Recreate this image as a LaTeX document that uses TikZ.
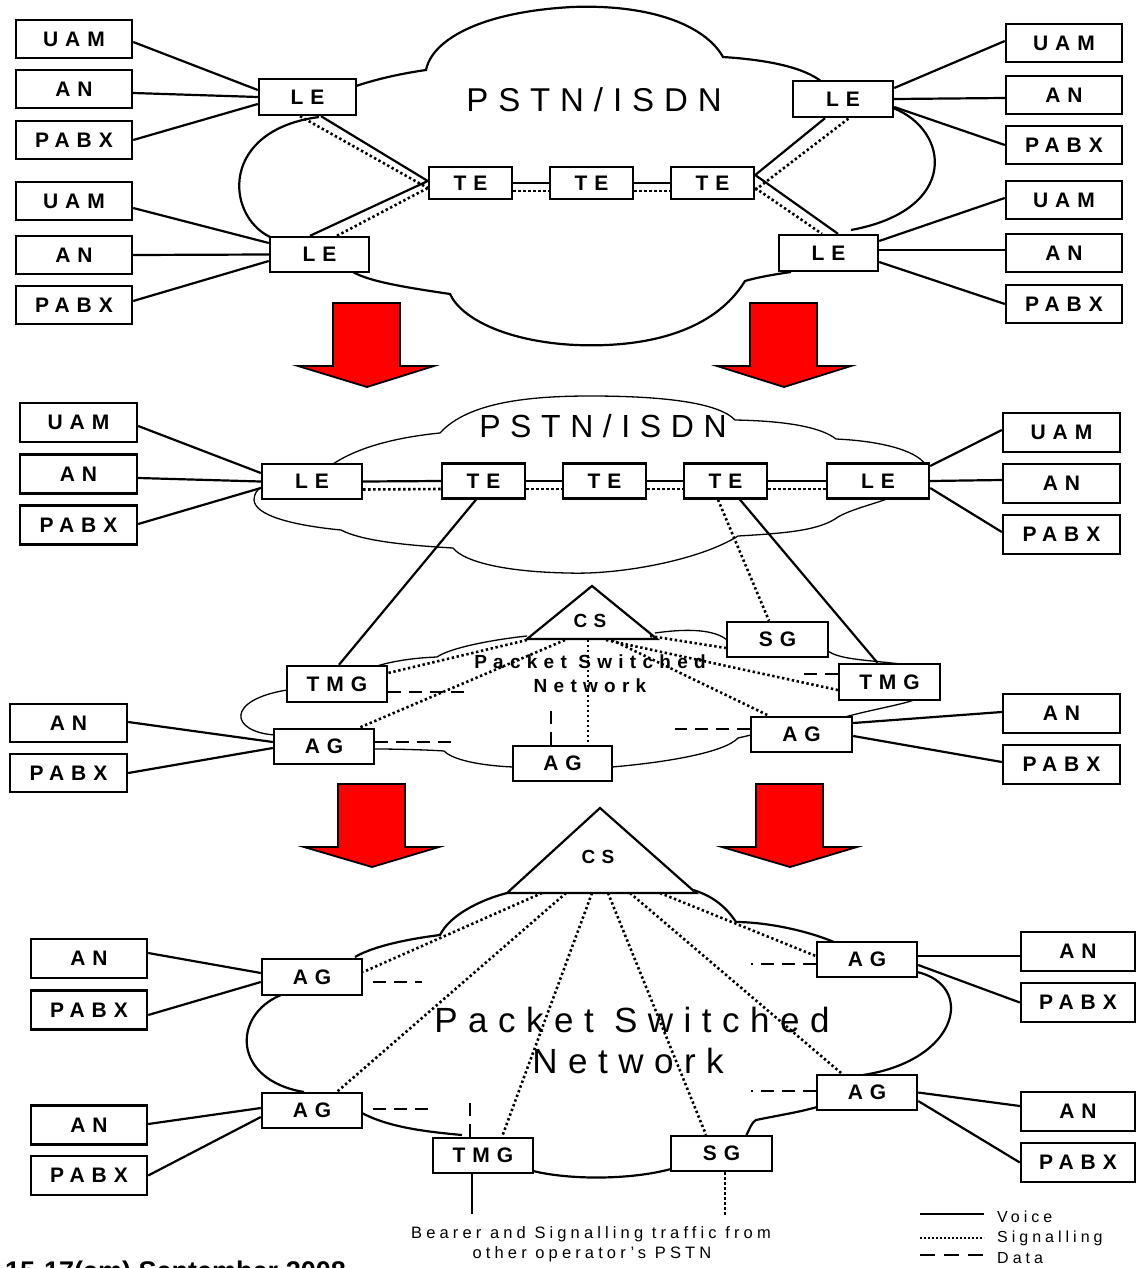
\documentclass[tikz,border=0pt]{standalone}
\usepackage{fontspec}
\setmainfont{Liberation Sans}
\newfontfamily\lblfont[LetterSpace=33]{Liberation Sans}
\newfontfamily\netfont[LetterSpace=30]{Liberation Sans}
\newfontfamily\notefont[LetterSpace=25]{Liberation Sans}
\begin{document}
\begin{tikzpicture}[x=1pt,y=-1pt,
  box/.style={draw, line width=2.4pt, fill=white, inner sep=0pt,
    font=\lblfont\bfseries\fontsize{21}{21}\selectfont},
  sbox/.style={box, minimum width=116pt, minimum height=38pt},
  voice/.style={line width=2.2pt},
  sig/.style={line width=2.6pt, dash pattern=on 2.4pt off 2.6pt},
  data/.style={line width=2.6pt, dash pattern=on 13pt off 8pt},
  cloudA/.style={line width=2.2pt},
  cloudB/.style={line width=1.3pt},
  bigarrow/.style={fill=red, draw=black, line width=1.8pt, line join=miter},
  cslabel/.style={font=\lblfont\bfseries\fontsize{19}{19}\selectfont, inner sep=0pt},
]
\clip (0,0) rectangle (1136,1268);
\fill[white] (0,0) rectangle (1136,1268);

% ---------------- clouds ----------------
% PSTN/ISDN (first stage)
\draw[cloudA] (356,86) .. controls (380,78) and (405,73) .. (426,70)
  .. controls (432,40) and (480,12) .. (572,7)
  .. controls (650,4) and (705,25) .. (723,57)
  .. controls (770,60) and (805,68) .. (822,82);
\draw[cloudA] (893,108) .. controls (950,130) and (960,210) .. (851,230);
\draw[cloudA] (791,272) .. controls (770,275) and (755,278) .. (745,281)
  .. controls (715,330) and (650,348) .. (576,345)
  .. controls (510,342) and (462,320) .. (450,294)
  .. controls (410,288) and (370,282) .. (353,272);
\draw[cloudA] (270,237) .. controls (225,215) and (220,130) .. (319,117);

% PSTN/ISDN (second stage)
\draw[cloudB] (333,464) .. controls (360,446) and (400,437) .. (440,433)
  .. controls (468,402) and (530,396) .. (590,396)
  .. controls (660,396) and (718,402) .. (735,420)
  .. controls (790,421) and (822,428) .. (836,439)
  .. controls (880,441) and (915,450) .. (925,464);
\draw[cloudB] (887,499) .. controls (870,505) and (850,510) .. (838,517)
  .. controls (820,530) and (790,533) .. (738,536)
  .. controls (700,560) and (620,575) .. (568,573)
  .. controls (510,572) and (465,563) .. (453,548)
  .. controls (400,545) and (360,540) .. (341,530)
  .. controls (290,525) and (255,515) .. (254,500)
  .. controls (254,493) and (258,489) .. (262,487);

% packet network (second stage)
\draw[cloudB] (287,690) .. controls (225,700) and (230,732) .. (275,735);
\draw[cloudB] (375,749) .. controls (400,749) and (430,750) .. (444,751)
  .. controls (455,762) and (490,766) .. (513,767);
\draw[cloudB] (612,767) .. controls (670,762) and (725,752) .. (738,738) -- (751,735);
\draw[cloudB] (845,717) .. controls (870,710) and (900,705) .. (914,700);
\draw[cloudB] (828,651) .. controls (840,660) and (870,660) .. (909,665);
\draw[cloudB] (655,633) .. controls (690,628) and (715,630) .. (727,640);
\draw[cloudB] (527,636) .. controls (490,640) and (450,648) .. (437,657)
  .. controls (410,658) and (390,662) .. (377,666);

% packet network (final stage)
\draw[cloudA] (507,893) .. controls (480,900) and (450,915) .. (440,935)
  .. controls (400,940) and (370,948) .. (355,957);
\draw[cloudA] (281,995) .. controls (232,1015) and (232,1080) .. (304,1092);
\draw[cloudA] (362,1113) .. controls (390,1128) and (430,1132) .. (462,1135);
\draw[cloudA] (533,1171) .. controls (570,1180) and (630,1180) .. (671,1169);
\draw[cloudA] (746,1136) .. controls (750,1128) and (752,1122) .. (756,1120)
  .. controls (780,1115) and (800,1112) .. (817,1107);
\draw[cloudA] (863,1075) .. controls (960,1060) and (975,985) .. (917,972);
\draw[cloudA] (834,942) .. controls (800,928) and (760,922) .. (736,922)
  .. controls (725,905) and (710,895) .. (693,890);

% ---------------- transition arrows ----------------
\draw[bigarrow] (333,303) -- (400,303) -- (400,366) -- (434,366) -- (367,387)
  -- (298,366) -- (333,366) -- cycle;
\draw[bigarrow] (750,303) -- (817,303) -- (817,366) -- (851,366) -- (784,387)
  -- (717,366) -- (750,366) -- cycle;
\draw[bigarrow] (338,784) -- (405,784) -- (405,847) -- (439,847) -- (372,867)
  -- (304,847) -- (338,847) -- cycle;
\draw[bigarrow] (756,784) -- (823,784) -- (823,847) -- (857,847) -- (790,867)
  -- (722,847) -- (756,847) -- cycle;

% ---------------- call servers ----------------
\draw[line width=2.2pt, fill=white, line join=miter] (527,639) -- (592,586) -- (657,639) -- cycle;
\node[cslabel] (mcs) at (590,621) {CS};
\draw[line width=2.2pt, fill=white, line join=miter] (507,893) -- (600,808) -- (696,893) -- cycle;
\node[cslabel] (bcs) at (598,857) {CS};

% ---------------- network titles ----------------
\node[font=\netfont\fontsize{33}{33}\selectfont, inner sep=0pt] (tpstn) at (594,100) {PSTN/ISDN};
\node[font=\netfont\fontsize{32}{32}\selectfont, inner sep=0pt] (mpstn) at (603,426) {PSTN/ISDN};
\node[font=\lblfont\bfseries\fontsize{19}{19}\selectfont, inner sep=0pt] (mpsn1) at (590,662) {Packet Switched};
\node[font=\lblfont\bfseries\fontsize{19}{19}\selectfont, inner sep=0pt] (mpsn2) at (590,686) {Network};
\node[font=\netfont\fontsize{35}{35}\selectfont, inner sep=0pt] (bpsn1) at (632,1020) {Packet Switched};
\node[font=\netfont\fontsize{35}{35}\selectfont, inner sep=0pt] (bpsn2) at (628,1061) {Network};

% ---------------- first stage nodes ----------------
\node[sbox] (tuam1) at (74,39) {UAM};
\node[sbox] (tan1) at (74,89) {AN};
\node[sbox] (tpabx1) at (74,140) {PABX};
\node[sbox] (tuam2) at (74,201) {UAM};
\node[sbox] (tan2) at (74,255) {AN};
\node[sbox] (tpabx2) at (74,305) {PABX};
\node[sbox] (tuam3) at (1064,43) {UAM};
\node[sbox] (tan3) at (1064,95) {AN};
\node[sbox] (tpabx3) at (1064,145) {PABX};
\node[sbox] (tuam4) at (1064,200) {UAM};
\node[sbox] (tan4) at (1064,253) {AN};
\node[sbox] (tpabx4) at (1064,304) {PABX};
\node[box, minimum width=97pt, minimum height=36pt] (tle1) at (307.5,97) {LE};
\node[box, minimum width=100pt, minimum height=36pt] (tle2) at (843,99) {LE};
\node[box, minimum width=99pt, minimum height=35pt] (tle3) at (319.5,254.5) {LE};
\node[box, minimum width=99pt, minimum height=36pt] (tle4) at (828.5,253) {LE};
\node[box, minimum width=83pt, minimum height=32pt] (tte1) at (470.5,183) {TE};
\node[box, minimum width=83pt, minimum height=32pt] (tte2) at (591.5,183) {TE};
\node[box, minimum width=83pt, minimum height=32pt] (tte3) at (712.5,183) {TE};

\draw[voice] ([yshift=-3pt]tuam1.east) -- ([yshift=7pt]tle1.west);
\draw[voice] ([yshift=-4pt]tan1.east) -- (tle1.west);
\draw[voice] (tpabx1.east) -- ([yshift=-7pt]tle1.west);
\draw[voice] ([yshift=-7pt]tuam2.east) -- ([yshift=11.5pt]tle3.west);
\draw[voice] (tan2.east) -- (tle3.west);
\draw[voice] ([yshift=4pt]tpabx2.east) -- ([yshift=-6.5pt]tle3.west);
\draw[voice] ([yshift=11pt]tle2.east) -- ([yshift=2pt]tuam3.west);
\draw[voice] (tle2.east) -- ([yshift=-3pt]tan3.west);
\draw[voice] ([yshift=-8pt]tle2.east) -- (tpabx3.west);
\draw[voice] ([yshift=12pt]tle4.east) -- ([yshift=2pt]tuam4.west);
\draw[voice] ([yshift=3pt]tle4.east) -- ([yshift=3pt]tan4.west);
\draw[voice] ([yshift=-9pt]tle4.east) -- (tpabx4.west);

\draw[voice] (tte1.east) -- (tte2.west);
\draw[sig] ([yshift=-8pt]tte1.east) -- ([yshift=-8pt]tte2.west);
\draw[voice] (tte2.east) -- (tte3.west);
\draw[sig] ([yshift=-8pt]tte2.east) -- ([yshift=-8pt]tte3.west);

\draw[voice] ([xshift=13.5pt]tle1.south) -- ([yshift=2pt]tte1.west);
\draw[sig] ([xshift=-7.5pt]tle1.south) -- ([yshift=-5pt]tte1.west);
\draw[voice] ([xshift=-9.5pt]tle3.north) -- ([yshift=2pt]tte1.west);
\draw[sig] ([xshift=17.5pt]tle3.north) -- ([yshift=-5pt]tte1.west);
\draw[voice] ([yshift=8pt]tte3.east) -- ([xshift=-18pt]tle2.south);
\draw[sig] ([yshift=-7pt]tte3.east) -- ([xshift=6pt]tle2.south);
\draw[voice] ([yshift=8pt]tte3.east) -- ([xshift=9.5pt]tle4.north);
\draw[sig] ([yshift=-5pt]tte3.east) -- ([xshift=-6.5pt]tle4.north);

% ---------------- second stage nodes ----------------
\node[box, minimum width=117pt, minimum height=39pt] (muam) at (78.5,422.5) {UAM};
\node[box, minimum width=117pt, minimum height=39pt] (man) at (78.5,474) {AN};
\node[box, minimum width=117pt, minimum height=39pt] (mpabx) at (78.5,525) {PABX};
\node[box, minimum width=117pt, minimum height=39pt] (muam2) at (1061.5,432.5) {UAM};
\node[box, minimum width=117pt, minimum height=39pt] (man2) at (1061.5,483.5) {AN};
\node[box, minimum width=117pt, minimum height=39pt] (mpabx2) at (1061.5,534.5) {PABX};
\node[box, minimum width=100pt, minimum height=35pt] (mle1) at (312,481.5) {LE};
\node[box, minimum width=83pt, minimum height=35pt] (mte1) at (483.5,481) {TE};
\node[box, minimum width=83pt, minimum height=35pt] (mte2) at (604.5,481) {TE};
\node[box, minimum width=83pt, minimum height=35pt] (mte3) at (725.5,481) {TE};
\node[box, minimum width=102pt, minimum height=35pt] (mle2) at (878,481) {LE};
\node[box, minimum width=101pt, minimum height=35pt] (msg) at (777.5,639.5) {SG};
\node[box, minimum width=101pt, minimum height=36pt] (mtmg2) at (889.5,682) {TMG};
\node[box, minimum width=101pt, minimum height=35pt] (mag3) at (801.5,734.5) {AG};
\node[box, minimum width=99pt, minimum height=35pt] (mag2) at (562.5,763.5) {AG};
\node[box, minimum width=100pt, minimum height=36pt] (mtmg1) at (337,684) {TMG};
\node[box, minimum width=100pt, minimum height=35pt] (mag1) at (324,746.5) {AG};
\node[box, minimum width=117pt, minimum height=38pt] (man3) at (68.5,723) {AN};
\node[box, minimum width=117pt, minimum height=38pt] (mpabx3) at (68.5,773) {PABX};
\node[box, minimum width=117pt, minimum height=39pt] (man4) at (1061.5,713.5) {AN};
\node[box, minimum width=117pt, minimum height=39pt] (mpabx4) at (1061.5,764.5) {PABX};

\draw[voice] ([yshift=-3.5pt]muam.east) -- ([yshift=8.5pt]mle1.west);
\draw[voice] ([yshift=-4pt]man.east) -- (mle1.west);
\draw[voice] ([yshift=1pt]mpabx.east) -- ([yshift=-6.5pt]mle1.west);
\draw[voice] ([yshift=15pt]mle2.east) -- ([yshift=2.5pt]muam2.west);
\draw[voice] (mle2.east) -- ([yshift=3.5pt]man2.west);
\draw[voice] ([yshift=-7pt]mle2.east) -- ([yshift=2.5pt]mpabx2.west);

\foreach \a/\b in {mle1/mte1, mte1/mte2, mte2/mte3, mte3/mle2} {
  \draw[voice] (\a.east) -- (\b.west);
  \draw[sig] ([yshift=-8pt]\a.east) -- ([yshift=-8pt]\b.west);
}

\draw[voice] ([xshift=-7.5pt]mte1.south) -- ([xshift=2pt]mtmg1.north);
\draw[voice] ([xshift=14.5pt]mte3.south) -- ([xshift=-12pt]mtmg2.north);
\draw[sig] ([xshift=-7.5pt]mte3.south) -- ([xshift=-8.5pt]msg.north);

\coordinate (mcs1) at (527,640);
\coordinate (mcs2) at (565,640);
\coordinate (mcs3) at (588,640);
\coordinate (mcs4) at (606,640);
\coordinate (mcs5) at (612,640);
\coordinate (mcs6) at (650,636);
\draw[sig] (mcs1) -- ([yshift=11pt]mtmg1.east);
\draw[sig] (mcs2) -- ([xshift=35pt]mag1.north);
\draw[sig] (mcs3) -- ([xshift=25.5pt]mag2.north);
\draw[sig] (mcs4) -- ([yshift=-8pt]mtmg2.west);
\draw[sig] (mcs5) -- ([xshift=-32.5pt]mag3.north);
\draw[sig] (mcs6) -- ([yshift=-8.5pt]msg.west);

\coordinate (d1) at (469,692);
\coordinate (d2) at (456,742);
\coordinate (d3) at (551,703);
\coordinate (d4) at (675,729);
\coordinate (d5) at (796,674);
\draw[data] ([yshift=-8pt]mtmg1.east) -- (d1);
\draw[data] ([yshift=4.5pt]mag1.east) -- (d2);
\draw[data] ([xshift=-11.5pt]mag2.north) -- (d3);
\draw[data] ([yshift=5.5pt]mag3.west) -- (d4);
\draw[data] ([yshift=8pt]mtmg2.west) -- (d5);

\draw[voice] ([yshift=1pt]man3.east) -- ([yshift=4.5pt]mag1.west);
\draw[voice] (mpabx3.east) -- ([yshift=-1.5pt]mag1.west);
\draw[voice] ([yshift=11.5pt]mag3.east) -- ([yshift=1.5pt]man4.west);
\draw[voice] ([yshift=-1.5pt]mag3.east) -- ([yshift=2.5pt]mpabx4.west);

% ---------------- final stage nodes ----------------
\node[box, minimum width=100pt, minimum height=36pt] (bag1) at (312,977) {AG};
\node[box, minimum width=100pt, minimum height=35pt] (bag2) at (312,1110.5) {AG};
\node[box, minimum width=100pt, minimum height=35pt] (btmg) at (483,1155.5) {TMG};
\node[box, minimum width=101pt, minimum height=35pt] (bsg) at (721.5,1153.5) {SG};
\node[box, minimum width=100pt, minimum height=35pt] (bag3) at (867,959.5) {AG};
\node[box, minimum width=100pt, minimum height=35pt] (bag4) at (867,1092.5) {AG};
\node[box, minimum width=116pt, minimum height=39pt] (ban1) at (89,958.5) {AN};
\node[box, minimum width=116pt, minimum height=39pt] (bpabx1) at (89,1010) {PABX};
\node[box, minimum width=116pt, minimum height=39pt] (ban2) at (89,1125) {AN};
\node[box, minimum width=116pt, minimum height=39pt] (bpabx2) at (89,1175.5) {PABX};
\node[box, minimum width=114pt, minimum height=39pt] (ban3) at (1078,951.5) {AN};
\node[box, minimum width=114pt, minimum height=39pt] (bpabx3) at (1078,1002.5) {PABX};
\node[box, minimum width=114pt, minimum height=39pt] (ban4) at (1078,1111.5) {AN};
\node[box, minimum width=114pt, minimum height=39pt] (bpabx4) at (1078,1162.5) {PABX};

\coordinate (bcs1) at (542,893);
\coordinate (bcs2) at (566,893);
\coordinate (bcs3) at (592,893);
\coordinate (bcs4) at (608,893);
\coordinate (bcs5) at (630,893);
\coordinate (bcs6) at (660,893);
\draw[sig] (bcs1) -- ([yshift=5pt]bag1.east);
\draw[sig] (bcs2) -- ([xshift=25pt]bag2.north);
\draw[sig] (bcs3) -- ([xshift=19pt]btmg.north);
\draw[sig] (bcs4) -- ([xshift=-15.5pt]bsg.north);
\draw[sig] (bcs5) -- ([xshift=-25pt]bag4.north);
\draw[sig] (bcs6) -- ([yshift=3.5pt]bag3.west);

\coordinate (e1) at (422,982);
\coordinate (e2) at (433,1109);
\coordinate (e3) at (470,1095);
\coordinate (e4) at (751,964);
\coordinate (e5) at (751,1091);
\draw[data, shorten <=10pt] ([yshift=-5pt]bag1.east) -- (e1);
\draw[data, shorten <=10pt] ([yshift=1.5pt]bag2.east) -- (e2);
\draw[data] ([xshift=-13pt]btmg.north) -- (e3);
\draw[data] ([yshift=-4.5pt]bag3.west) -- (e4);
\draw[data] ([yshift=1.5pt]bag4.west) -- (e5);

\draw[voice] ([yshift=5.5pt]ban1.east) -- ([yshift=4pt]bag1.west);
\draw[voice] ([yshift=-5pt]bpabx1.east) -- ([yshift=-5pt]bag1.west);
\draw[voice] ([yshift=1pt]ban2.east) -- ([yshift=2.5pt]bag2.west);
\draw[voice] (bpabx2.east) -- ([yshift=-6.5pt]bag2.west);
\draw[voice] ([yshift=3.5pt]bag3.east) -- ([yshift=-4.5pt]ban3.west);
\draw[voice] ([yshift=-5.5pt]bag3.east) -- (bpabx3.west);
\draw[voice] (bag4.east) -- ([yshift=5.5pt]ban4.west);
\draw[voice] ([yshift=-8.5pt]bag4.east) -- (bpabx4.west);

\coordinate (f1) at (472,1214);
\coordinate (f2) at (725,1215);
\draw[voice] ([xshift=-11pt]btmg.south) -- (f1);
\draw[sig] ([xshift=3.5pt]bsg.south) -- (f2);

\node[font=\notefont\fontsize{16.5}{16.5}\selectfont, anchor=base, inner sep=0pt] (bearer1) at (591,1238) {Bearer and Signalling traffic from};
\node[font=\notefont\fontsize{16.5}{16.5}\selectfont, anchor=base, inner sep=0pt] (bearer2) at (592,1258) {other operator’s PSTN};

% ---------------- legend ----------------
\coordinate (lv1) at (920,1214); \coordinate (lv2) at (984,1214);
\coordinate (ls1) at (920,1238); \coordinate (ls2) at (984,1238);
\coordinate (ld1) at (920,1255); \coordinate (ld2) at (984,1255);
\draw[voice] (lv1) -- (lv2);
\draw[line width=2.2pt, dash pattern=on 2pt off 2pt] (ls1) -- (ls2);
\draw[line width=2.6pt, dash pattern=on 15pt off 9pt] (ld1) -- (ld2);
\node[font=\notefont\fontsize{16}{16}\selectfont, anchor=base west, inner sep=0pt] (lgv) at (997,1222) {Voice};
\node[font=\notefont\fontsize{16}{16}\selectfont, anchor=base west, inner sep=0pt] (lgs) at (997,1242) {Signalling};
\node[font=\notefont\fontsize{16}{16}\selectfont, anchor=base west, inner sep=0pt] (lgd) at (997,1263) {Data};

% ---------------- footer (runs off the lower edge of the page) ----------------
\node[font=\bfseries\fontsize{27}{27}\selectfont, anchor=base west, inner sep=0pt] (date) at (5,1280) {15-17(am) September 2008};
\end{tikzpicture}
\end{document}
